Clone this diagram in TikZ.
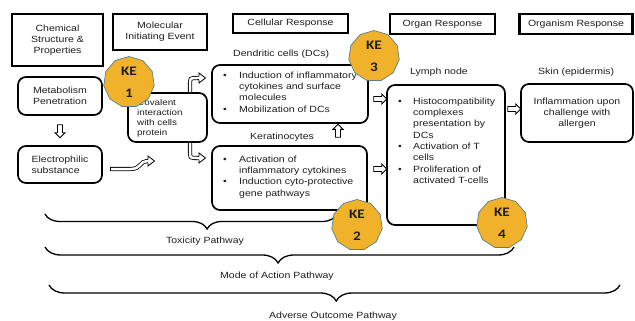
\documentclass[tikz,border=0pt]{standalone}
\usepackage{fontspec}
\setmainfont[FakeStretch=1.17]{Liberation Sans}
\newfontfamily\kefont[FakeStretch=1.17]{Carlito}
\usetikzlibrary{shapes.geometric,shapes.arrows,decorations.pathreplacing}
\definecolor{kefill}{HTML}{F0B22A}
\definecolor{keedge}{HTML}{55808F}
\definecolor{txt}{HTML}{1E1E1E}
\newcommand{\rhead}[2]{%
  \fill[white] (#1,#2-5) -- (#1+6.5,#2) -- (#1,#2+5) -- cycle;
  \draw[line width=0.8pt,line join=miter] (#1,#2-1.65) -- (#1,#2-5) -- (#1+6.5,#2) -- (#1,#2+5) -- (#1,#2+1.65);}
\tikzset{
  hdr/.style={draw, line width=2.6pt, inner sep=1pt, align=center, text=txt},
  rbox/.style={draw, line width=1.7pt, rounded corners=8pt, inner sep=1pt, text=txt},
  lbl/.style={inner sep=0pt, text=txt},
  badge/.style={regular polygon, regular polygon sides=11, fill=kefill, draw=keedge,
    line width=0.7pt, minimum size=51pt, inner sep=0pt, align=center,
    font=\kefont\bfseries\fontsize{13}{22}\selectfont, text=txt},
  harrow/.style={single arrow, draw, fill=white, line width=0.8pt, minimum height=13pt,
    inner sep=2.1pt, single arrow head extend=2.6pt},
  dbl/.style={draw, line width=0.8pt, double=white, double distance=2.5pt},
  bracestyle/.style={decorate, line width=1.3pt},
}
\begin{document}
\begin{tikzpicture}[x=1pt,y=-1pt,font=\fontsize{9}{11.3}\selectfont]
\useasboundingbox (0,0) rectangle (635,321);

% header boxes
\node[hdr, minimum width=91pt, minimum height=52pt] (chem) at (57.5,40) {Chemical\\Structure \&\\Properties};
\node[hdr, minimum width=94pt, minimum height=36pt] (mie) at (160,32) {Molecular\\Initiating Event};
\node[hdr, minimum width=115pt, minimum height=19pt] (cell) at (290.5,23.5) {Cellular Response};
\node[hdr, minimum width=105pt, minimum height=20pt] (organ) at (442.5,24) {Organ Response};
\node[hdr, minimum width=113pt, minimum height=20pt] (organism) at (576,24) {Organism Response};

% rounded boxes
\node[rbox, minimum width=84pt, minimum height=38pt, align=center] (met) at (60,96) {Metabolism\\Penetration};
\node[rbox, minimum width=84pt, minimum height=37pt, align=left] (elec) at (60,164.5) {Electrophilic\\substance};
\node[rbox, minimum width=79pt, minimum height=49pt] (cov) at (167.5,117.5) {};
\node[rbox, minimum width=156pt, minimum height=58pt] (dc) at (290,94) {};
\node[rbox, minimum width=155pt, minimum height=64pt] (ker) at (289.5,178) {};
\node[rbox, minimum width=118pt, minimum height=140pt] (lymph) at (446,155) {};
\node[rbox, minimum width=112pt, minimum height=58pt, align=center] (skin) at (577,113) {Inflammation upon\\challenge with\\allergen};

% texts in boxes
\node[lbl, anchor=west, align=left, font=\fontsize{8.4}{10}\selectfont] (covt) at (137,118) {Covalent\\interaction\\with cells\\protein};
\node[lbl, anchor=west] (dct) at (223,93) {\begin{tabular}{@{}p{16pt}@{}l@{}}\textbullet&Induction of inflammatory\\&cytokines and surface\\&molecules\\\textbullet&Mobilization of DCs\end{tabular}};
\node[lbl, anchor=west] (kert) at (223,177) {\begin{tabular}{@{}p{16pt}@{}l@{}}\textbullet&Activation of\\&inflammatory cytokines\\\textbullet&Induction cyto-protective\\&gene pathways\end{tabular}};
\node[lbl, anchor=west] (lymt) at (398,141.5) {\begin{tabular}{@{}p{15pt}@{}l@{}}\textbullet&Histocompatibility\\&complexes\\&presentation by\\&DCs\\\textbullet&Activation of T\\&cells\\\textbullet&Proliferation of\\&activated T-cells\end{tabular}};

% labels
\node[lbl, anchor=west] (dcl) at (233,54) {Dendritic cells (DCs)};
\node[lbl, anchor=west] (kerl) at (250,137) {Keratinocytes};
\node[lbl, anchor=west] (lyml) at (410,72) {Lymph node};
\node[lbl, anchor=west] (skinl) at (538,72) {Skin (epidermis)};

% block arrows
\node[harrow] (a1) at (379,99) {};
\node[harrow] (a2) at (379,169) {};
\node[harrow] (a3) at (513,109) {};
\node[harrow, shape border rotate=270] (a4) at (60,130) {};
\node[harrow, shape border rotate=90] (a5) at (338,132) {};

% curved hollow arrows
\coordinate (c1) at (190,78);
\coordinate (c2) at (190,158);
\coordinate (c3) at (110,169);
\draw[dbl] (cov.north -| c1) -- (190,85) .. controls (190,78) .. (197,78) -- (199.5,78);
\rhead{199}{78}
\draw[dbl] (cov.south -| c2) -- (190,151) .. controls (190,158) .. (197,158) -- (199.5,158);
\rhead{199}{158}
\draw[dbl] (c3) -- (131,169) .. controls (141,169) and (140,161) .. (147,161) -- (148.5,161);
\draw[line width=0.8pt] (110,167.35) -- (110,170.65);
\rhead{148}{161}

% braces
\coordinate (t1) at (337,214); \coordinate (t0) at (45,214);
\coordinate (m1) at (514,247); \coordinate (m0) at (45,247);
\coordinate (v1) at (620,285); \coordinate (v0) at (49,285);
\draw[bracestyle, decoration={brace, amplitude=15pt, aspect=0.445}] (t1) -- (t0);
\draw[bracestyle, decoration={brace, amplitude=16pt, aspect=0.503}] (m1) -- (m0);
\draw[bracestyle, decoration={brace, amplitude=16pt, aspect=0.497}] (v1) -- (v0);
\node[lbl] (tox) at (205,241) {Toxicity Pathway};
\node[lbl] (moa) at (277,276) {Mode of Action Pathway};
\node[lbl] (aop) at (333,316) {Adverse Outcome Pathway};

% KE badges
\node[badge] (ke1) at (129,82) {KE\\1};
\node[badge] (ke3) at (374,56) {KE\\3};
\node[badge] (ke2) at (357,225) {KE\\2};
\node[badge] (ke4) at (502,223) {KE\\4};
\end{tikzpicture}
\end{document}
